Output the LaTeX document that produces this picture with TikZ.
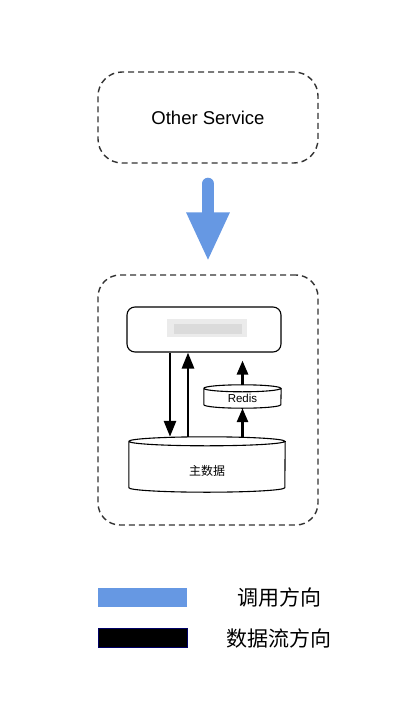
\documentclass[tikz,border=0pt]{standalone}
\usepackage{fontspec}
\setmainfont{Liberation Sans}
\newfontfamily\cjk{Noto Sans CJK SC}
\usepackage{tikz}
\usetikzlibrary{arrows.meta,positioning,calc}

\definecolor{callblue}{RGB}{102,152,227}
\definecolor{dashgray}{RGB}{50,50,50}

% cylinder outline round a (borderless) node: name, x radius, y radius
\newcommand{\drawcyl}[3]{%
  \draw[fill=white,line width=1.1pt]
    ([yshift=-#3]#1.north west) arc[start angle=180,end angle=360,x radius=#2,y radius=#3]
    arc[start angle=0,end angle=180,x radius=#2,y radius=#3]
    -- ([yshift=#3]#1.south west)
    arc[start angle=180,end angle=360,x radius=#2,y radius=#3]
    -- ([yshift=-#3]#1.north east);}

\begin{document}
\begin{tikzpicture}[x=1pt,y=-1pt,
  dashbox/.style={draw=dashgray,line width=1.4pt,dash pattern=on 6pt off 4pt,rounded corners=24pt},
  storebox/.style={draw,line width=1.1pt,rounded corners=8pt,fill=white},
  cylnode/.style={inner sep=0pt},
  flow/.style={line width=2.8pt,-{Triangle[width=12pt,length=16pt]}},
  callarrow/.style={line width=12pt,line cap=round,draw=callblue,-{Triangle[width=40pt,length=49pt]}},
  keybox/.style={minimum width=89pt,minimum height=19pt,inner sep=0pt}]

\useasboundingbox (0,0) rectangle (406,722);

% Caller
\node[dashbox,minimum width=220pt,minimum height=91pt,font=\fontsize{18.5}{20}\selectfont] (other) at (208,117.5) {Other Service};

% Service group
\node[dashbox,minimum width=220pt,minimum height=250pt,rounded corners=22pt] (outer) at (208,400) {};
\draw[callarrow,shorten <=20pt,shorten >=13pt] (other.south) -- (outer.north);

\node[storebox,minimum width=154pt,minimum height=45pt] (zoo) at (204,329.5) {};
\fill[black!8] ([xshift=-37pt,yshift=11pt]zoo.center) rectangle ([xshift=43pt,yshift=-7pt]zoo.center);
\fill[black!14] ([xshift=-30pt,yshift=6pt]zoo.center) rectangle ([xshift=38pt,yshift=-4pt]zoo.center);

\node[cylnode,minimum width=77pt,minimum height=23pt] (redis) at (242.5,396.5) {};
\drawcyl{redis}{38.5pt}{3.5pt}
\node[font=\fontsize{11.5}{13}\selectfont] (redislbl) at ([yshift=-2pt]redis.center) {Redis};

\node[cylnode,minimum width=156pt,minimum height=55pt] (db) at (207,464.5) {};
\drawcyl{db}{78pt}{4.5pt}
\node[font=\cjk\fontsize{12}{14}\selectfont] (dblbl) at ([yshift=-6pt]db.center) {主数据};

% Data flow
\draw[flow] ([xshift=-34pt]zoo.south) -- ([xshift=-37pt]db.north);
\draw[flow] ([xshift=-19pt]db.north) -- ([xshift=-16pt]zoo.south);
\draw[flow,-{Triangle[width=11pt,length=14pt]}] (redis.north) -- ([yshift=-8pt]zoo.south -| redis.north);
\draw[flow,-{Triangle[width=11pt,length=14pt]}] (redis.south |- db.north) -- (redis.south);

% Legend
\node[keybox,fill=callblue] (callkey) at (142.5,597.5) {};
\node[keybox,fill=black,draw=blue!40!black,line width=0.6pt] (flowkey) at (142.5,638) {};
\node[font=\cjk\fontsize{21}{23}\selectfont] (calltxt) at (279,598) {调用方向};
\node[font=\cjk\fontsize{21}{23}\selectfont] (flowtxt) at (279,638) {数据流方向};

\end{tikzpicture}
\end{document}
